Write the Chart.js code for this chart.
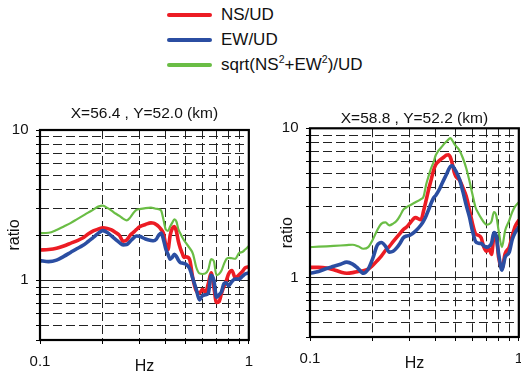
<!DOCTYPE html>
<html><head><meta charset="utf-8">
<script src="https://cdn.jsdelivr.net/npm/chart.js@4"></script>
<style>
html,body{margin:0;padding:0;background:#fff;width:521px;height:374px;overflow:hidden;position:relative;font-family:"Liberation Sans",Arial,sans-serif;}
canvas{position:absolute;}
#c1{left:0;top:100px;}
#c2{left:262px;top:105px;}
.lg{position:absolute;left:167px;height:20px;display:flex;align-items:center;font-size:17px;color:#111;white-space:nowrap;}
.lg i{display:inline-block;width:45px;height:4px;border-radius:2px;margin-right:9px;}
sup{font-size:10.5px;vertical-align:7px;line-height:0;}
</style></head><body>
<div class="lg" style="top:5px"><i style="background:#EC1C24"></i><span id="n0"></span></div>
<div class="lg" style="top:29.5px"><i style="background:#2B4EA2"></i><span id="n1"></span></div>
<div class="lg" style="top:54.5px"><i style="background:#6ABD45"></i><span>sqrt(NS<sup>2</sup>+EW<sup>2</sup>)/UD</span></div>
<canvas id="c1" width="262" height="276"></canvas>
<canvas id="c2" width="270" height="268"></canvas>
<script>
const freqs = [0.10,0.11,0.12,0.13,0.14,0.15,0.16,0.17,0.18,0.19,0.20,0.21,0.22,0.23,0.24,0.25,0.26,0.27,0.28,0.29,0.30,0.32,0.34,0.35,0.36,0.37,0.38,0.39,0.40,0.41,0.42,0.43,0.44,0.45,0.46,0.47,0.48,0.49,0.50,0.52,0.54,0.56,0.58,0.60,0.62,0.64,0.66,0.68,0.70,0.72,0.74,0.76,0.78,0.80,0.83,0.86,0.90,0.93,0.96,1.00];

const seriesNames = ['NS/UD','EW/UD','sqrt(NS²+EW²)/UD'];
const leftTitle = 'X=56.4 , Y=52.0 (km)';
const rightTitle = 'X=58.8 , Y=52.2 (km)';

const leftNS = [1.59,1.60,1.63,1.69,1.76,1.83,1.91,2.03,2.13,2.19,2.23,2.21,2.16,2.08,1.99,1.82,1.85,1.99,2.08,2.18,2.27,2.35,2.41,2.40,2.35,2.28,2.18,2.05,1.73,1.60,1.99,2.21,2.28,2.11,1.81,1.63,1.51,1.42,1.43,1.38,1.02,0.85,0.82,0.87,0.83,0.95,1.12,0.90,0.71,0.72,0.82,0.91,0.99,1.10,1.16,1.04,1.09,1.14,1.21,1.23];
const leftEW = [1.35,1.33,1.36,1.44,1.53,1.62,1.70,1.81,1.93,2.05,2.14,2.08,1.97,1.87,1.78,1.72,1.73,1.81,1.91,1.97,1.96,1.88,1.84,1.83,1.87,1.99,2.06,1.87,1.62,1.49,1.38,1.42,1.49,1.44,1.36,1.31,1.30,1.29,1.28,1.20,1.02,0.87,0.74,0.79,0.80,0.82,1.08,1.00,0.77,0.80,0.84,0.95,0.96,0.92,0.98,1.02,1.02,1.06,1.10,1.12];
const leftH  = [2.06,2.07,2.16,2.28,2.40,2.54,2.68,2.82,2.95,3.09,3.14,3.03,2.91,2.78,2.68,2.57,2.50,2.61,2.80,2.95,2.97,3.02,3.04,3.02,2.99,2.97,2.91,2.54,2.18,2.13,2.28,2.42,2.54,2.46,2.18,2.05,1.93,1.84,1.77,1.64,1.50,1.22,1.11,1.10,1.11,1.18,1.38,1.34,1.08,1.10,1.16,1.28,1.38,1.41,1.40,1.39,1.52,1.54,1.60,1.69];

const rightNS = [1.17,1.17,1.16,1.13,1.09,1.07,1.08,1.10,1.11,1.14,1.21,1.30,1.40,1.52,1.62,1.74,1.86,1.98,2.10,2.18,2.30,2.52,2.44,2.80,3.30,3.90,4.50,5.20,5.70,5.95,6.15,6.30,6.45,6.60,6.65,6.40,5.80,5.10,4.75,4.50,4.00,3.50,2.85,2.30,1.97,1.92,1.85,1.60,1.50,1.56,1.43,1.85,1.85,1.37,1.15,1.45,1.60,1.90,2.20,2.42];
const rightEW = [1.07,1.10,1.15,1.19,1.23,1.27,1.23,1.15,1.07,1.14,1.35,1.65,1.72,1.62,1.48,1.50,1.58,1.70,1.85,1.90,1.92,2.05,2.25,2.40,2.60,2.85,3.15,3.40,3.55,3.75,4.00,4.30,4.60,4.90,5.25,5.55,5.60,5.40,5.15,4.55,3.75,3.05,2.55,2.05,1.75,1.70,1.69,1.63,1.60,1.62,1.70,2.00,1.90,1.45,1.12,1.37,1.48,1.80,2.00,2.18];
const rightH  = [1.60,1.61,1.62,1.63,1.64,1.65,1.66,1.62,1.56,1.60,1.80,2.08,2.30,2.34,2.24,2.30,2.40,2.60,2.85,2.96,3.04,3.20,3.35,3.50,4.20,4.80,5.40,5.90,6.60,7.00,7.30,7.60,7.90,8.15,8.40,8.60,8.30,7.90,7.60,7.10,6.30,5.40,4.45,3.60,2.96,2.70,2.50,2.35,2.26,2.28,2.38,2.75,2.60,2.07,1.60,2.07,2.42,2.75,3.00,3.20];

const xTicks = [0.1,0.2,0.3,0.4,0.5,0.6,0.7,0.8,0.9,1];
const yTicks = [0.4,0.5,0.6,0.7,0.8,0.9,1,2,3,4,5,6,7,8,9,10];
const xTickLabels = [0.1,1];
const yTickLabels = [1,10];

document.getElementById('n0').textContent = seriesNames[0];
document.getElementById('n1').textContent = seriesNames[1];

const RED = '#EC1C24', BLUE = '#2B4EA2', GREEN = '#6ABD45';
const FONT = '"Liberation Sans", Arial, sans-serif';

function pts(vals){ return freqs.map((f,i)=>({x:f, y:vals[i]})); }

const framePlugin = {
  id:'frame',
  afterDatasetsDraw(chart){
    const a = chart.chartArea, c = chart.ctx;
    c.save(); c.lineWidth = 2.2; c.strokeStyle = '#000';
    c.strokeRect(a.left, a.top, a.right-a.left, a.bottom-a.top);
    c.restore();
  }
};

function build(id, title, ns, ew, h, cfg){
  const gridCommon = {color:'#222', lineWidth:1, drawTicks:true, tickLength:4, tickColor:'#000', tickBorderDash:[]};
  return new Chart(document.getElementById(id), {
    type:'line',
    data:{datasets:[
      {label:seriesNames[1], data:pts(ew), borderColor:BLUE, borderWidth:3.6, order:0},
      {label:seriesNames[0], data:pts(ns), borderColor:RED, borderWidth:3.6, order:1},
      {label:seriesNames[2], data:pts(h), borderColor:GREEN, borderWidth:2.2, order:2}
    ]},
    options:{
      responsive:false, animation:false, devicePixelRatio:1,
      layout:{padding:{left:0, right:cfg.padRight, top:0, bottom:0}},
      elements:{point:{radius:0}, line:{cubicInterpolationMode:'monotone', borderCapStyle:'round', borderJoinStyle:'round', fill:false}},
      plugins:{
        legend:{display:false}, tooltip:{enabled:false},
        title:{display:true, text:title, fullSize:false, color:'#111',
          font:{size:15.5, weight:'normal', family:FONT, lineHeight:1.2},
          padding:{top:cfg.tTop, bottom:cfg.tBottom}}
      },
      scales:{
        x:{type:'logarithmic', min:0.1, max:1,
          afterBuildTicks:s=>{ s.ticks = xTicks.map(v=>({value:v})); },
          afterFit:s=>{ s.height = 36; },
          ticks:{autoSkip:false, maxRotation:0, minRotation:0, padding:9, color:'#111',
            font:{size:15, family:FONT}, callback:v=> xTickLabels.includes(v) ? String(v) : ''},
          grid:gridCommon,
          border:{display:false, dash:[9,4]},
          title:{display:true, text:'Hz', color:'#111', font:{size:16, family:FONT, lineHeight:1.2}, padding:{top:0, bottom:0}}
        },
        y:{type:'logarithmic', min:0.4, max:10,
          afterBuildTicks:s=>{ s.ticks = yTicks.map(v=>({value:v})); },
          afterFit:s=>{ s.width = cfg.yWidth; },
          ticks:{autoSkip:false, padding:7.5, color:'#111',
            font:{size:15, family:FONT}, callback:v=> yTickLabels.includes(v) ? String(v) : ''},
          grid:gridCommon,
          border:{display:false, dash:ctx=> (ctx.tick && ctx.tick.value === 1) ? [] : [9,4]},
          title:{display:true, text:'ratio', color:'#111', font:{size:16, family:FONT, lineHeight:1.2}, padding:{top:cfg.ratioPad, bottom:0}}
        }
      }
    },
    plugins:[framePlugin]
  });
}

build('c1', leftTitle, leftNS, leftEW, leftH, {padRight:12, yWidth:40, tTop:4, tBottom:7.4, ratioPad:4.7});
build('c2', rightTitle, rightNS, rightEW, rightH, {padRight:12, yWidth:48, tTop:4.7, tBottom:0, ratioPad:16});
</script>
</body></html>
